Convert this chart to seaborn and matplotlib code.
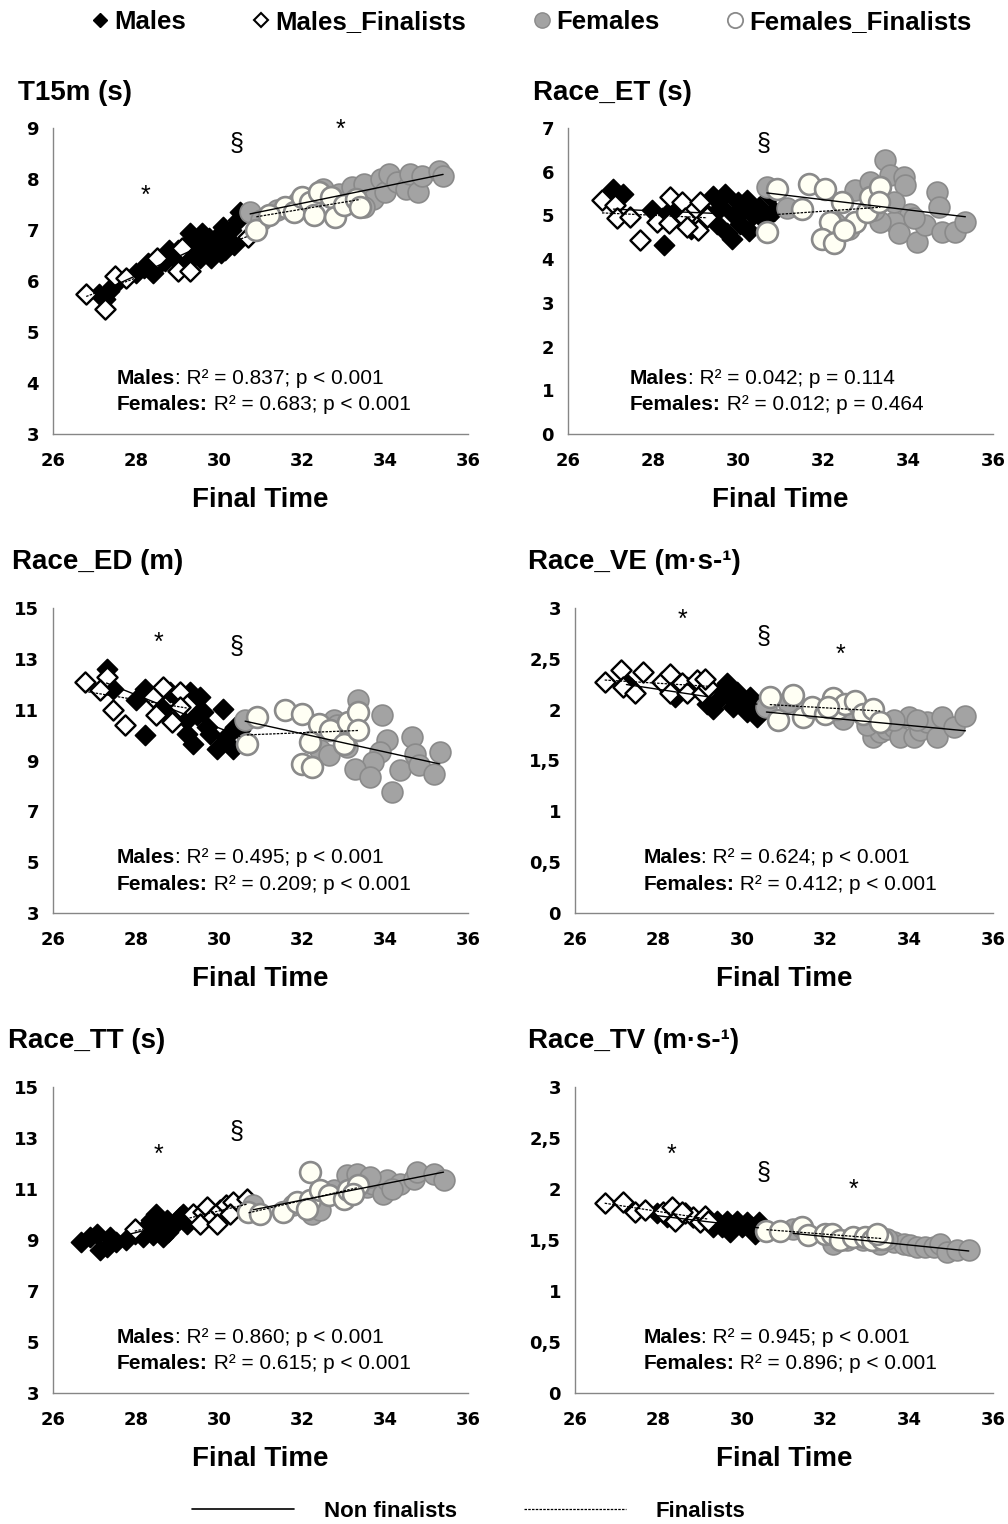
import numpy as np
import matplotlib
matplotlib.use("Agg")
import matplotlib.pyplot as plt
from matplotlib.lines import Line2D
import seaborn as sns

# ---- data (Final Time vs race variable) ----
# T15m (s)
t15_m_x = [27.1, 27.25, 27.35, 27.45, 28.0, 28.2, 28.3, 28.4, 28.5, 28.7, 28.9, 29.0, 29.2, 29.3, 29.4,
           29.5, 29.6, 29.7, 29.8, 29.9, 30.0, 30.05, 30.2, 30.3, 30.35, 30.45, 30.5, 29.1, 29.55, 30.1,
           29.25, 29.75, 30.15, 28.8, 29.45]
t15_m_y = [5.75, 5.65, 5.8, 5.9, 6.15, 6.25, 6.35, 6.15, 6.3, 6.4, 6.5, 6.6, 6.7, 6.95, 6.5,
           6.8, 6.95, 6.6, 6.45, 6.75, 6.9, 6.55, 6.8, 7.0, 6.7, 7.2, 7.35, 6.3, 6.45, 7.05,
           6.45, 6.85, 6.6, 6.6, 6.7]
t15_mf_x = [26.8, 27.25, 27.5, 27.75, 28.5, 29.0, 29.3, 29.1, 30.7]
t15_mf_y = [5.75, 5.45, 6.1, 6.05, 6.45, 6.2, 6.2, 6.65, 6.87]
t15_f_x = [30.75, 31.0, 31.4, 31.9, 32.5, 32.9, 33.2, 33.5, 33.7, 33.9, 34.0, 34.1, 34.3, 34.5, 34.6,
           34.8, 34.9, 35.3, 35.4, 33.5]
t15_f_y = [7.35, 7.2, 7.4, 7.55, 7.8, 7.7, 7.85, 7.9, 7.6, 8.0, 7.75, 8.1, 7.95, 7.8, 8.1,
           7.75, 8.05, 8.15, 8.05, 7.45]
t15_ff_x = [30.9, 31.6, 31.8, 32.0, 32.2, 32.3, 32.4, 32.7, 32.8, 33.0, 33.3, 33.4, 31.2]
t15_ff_y = [7.0, 7.45, 7.35, 7.65, 7.55, 7.3, 7.75, 7.65, 7.25, 7.5, 7.6, 7.45, 7.3]

# Race_ET (s)
et_m_x = [27.07, 27.3, 27.98, 28.25, 29.4, 29.5, 29.6, 29.7, 29.75, 29.85, 29.9, 30.0, 30.05, 30.1,
          30.2, 30.25, 30.35, 30.5, 30.6, 30.75, 30.85, 29.3, 28.9, 28.4, 28.2]
et_m_y = [5.61, 5.5, 5.12, 4.32, 5.45, 4.8, 5.2, 5.5, 4.6, 4.45, 5.0, 5.3, 4.8, 5.1,
          5.35, 4.65, 5.0, 5.2, 4.9, 5.45, 5.1, 5.0, 4.7, 5.1, 4.95]
et_mf_x = [26.8, 27.1, 27.15, 27.47, 27.7, 28.1, 28.4, 28.37, 28.68, 28.76, 29.1, 29.07, 29.27, 28.8]
et_mf_y = [5.35, 5.23, 4.93, 4.97, 4.44, 4.85, 5.42, 4.82, 5.31, 4.93, 5.31, 4.66, 4.97, 4.74]
et_f_x = [33.47, 33.58, 33.9, 33.94, 32.76, 33.11, 34.68, 34.72, 34.05, 33.66, 33.78, 33.35, 34.21, 34.41,
          34.8, 35.11, 35.35, 32.29, 32.6, 31.15, 30.68, 33.19, 34.13, 33.66]
et_f_y = [6.26, 5.92, 5.88, 5.69, 5.58, 5.77, 5.54, 5.2, 5.04, 4.85, 4.59, 4.85, 4.4, 4.78,
          4.63, 4.63, 4.85, 4.82, 4.7, 5.16, 5.65, 5.12, 4.93, 5.31]
et_ff_x = [30.68, 30.92, 31.5, 31.66, 32.05, 32.17, 31.98, 32.25, 32.45, 32.76, 33.03, 33.11, 33.35, 33.31, 32.5]
et_ff_y = [4.63, 5.61, 5.15, 5.73, 5.61, 4.85, 4.47, 4.36, 5.31, 4.85, 5.08, 5.42, 5.65, 5.31, 4.66]

# Race_ED (m)
ed_m_x = [27.29, 27.45, 28.01, 28.21, 28.21, 28.45, 28.65, 28.82, 29.06, 29.22, 29.3, 29.54, 29.46, 29.62,
          29.38, 29.78, 29.94, 30.1, 30.18, 30.34, 30.38, 30.5, 29.22, 29.7]
ed_m_y = [12.61, 11.83, 11.37, 11.83, 9.99, 11.5, 11.04, 11.7, 11.37, 10.58, 11.7, 11.5, 10.78, 10.91,
          9.66, 10.06, 9.47, 11.04, 9.92, 9.47, 10.32, 10.19, 10.06, 10.32]
ed_mf_x = [26.76, 27.29, 27.13, 27.45, 27.73, 28.41, 28.65, 28.49, 29.06, 28.86, 29.22, 29.06]
ed_mf_y = [12.09, 12.29, 11.76, 10.97, 10.38, 11.5, 11.89, 10.78, 11.7, 10.51, 11.17, 11.1]
ed_f_x = [30.63, 32.76, 33.36, 33.92, 34.05, 33.88, 33.72, 33.28, 33.64, 34.17, 34.37, 34.65, 34.73, 34.81,
          35.17, 35.32, 32.44, 32.84, 32.64, 33.08]
ed_f_y = [10.58, 10.58, 11.37, 10.78, 9.79, 9.33, 8.94, 8.68, 8.35, 7.76, 8.61, 9.92, 9.27, 8.81,
          8.48, 9.33, 9.4, 10.38, 9.2, 9.53]
ed_ff_x = [30.67, 30.91, 31.59, 31.99, 32.4, 32.2, 31.99, 32.24, 32.68, 33.0, 33.12, 33.36, 33.36]
ed_ff_y = [9.66, 10.71, 10.97, 10.84, 10.45, 9.73, 8.88, 8.74, 10.19, 9.66, 10.51, 10.91, 10.19]

# Race_VE (m.s-1)
ve_m_x = [27.23, 27.35, 28.39, 28.67, 29.15, 29.39, 29.51, 29.63, 29.71, 29.79, 29.87, 29.95, 30.07, 30.19,
          30.27, 30.35, 29.71, 29.31, 30.11]
ve_m_y = [2.26, 2.21, 2.12, 2.22, 2.06, 2.09, 2.19, 2.26, 2.12, 2.03, 2.17, 2.09, 2.06, 2.12,
          2.01, 1.93, 2.22, 2.01, 1.98]
ve_mf_x = [26.71, 27.11, 27.15, 27.43, 27.63, 28.07, 28.27, 28.27, 28.55, 28.67, 28.91, 29.03, 29.19, 29.11]
ve_mf_y = [2.27, 2.39, 2.22, 2.16, 2.37, 2.27, 2.35, 2.16, 2.26, 2.16, 2.29, 2.16, 2.22, 2.3]
ve_f_x = [30.58, 31.1, 32.42, 33.14, 33.3, 33.46, 33.62, 33.78, 33.98, 34.1, 34.26, 34.42, 34.66, 34.78,
          35.06, 35.34, 33.62, 34.18, 32.98]
ve_f_y = [2.03, 2.08, 1.91, 1.73, 1.78, 1.81, 1.83, 1.73, 1.93, 1.73, 1.8, 1.88, 1.73, 1.93,
          1.83, 1.94, 1.9, 1.9, 1.85]
ve_ff_x = [30.66, 30.86, 31.22, 31.46, 31.66, 31.98, 32.18, 32.26, 32.46, 32.7, 32.9, 33.14, 33.3, 32.06]
ve_ff_y = [2.12, 1.9, 2.14, 1.93, 2.03, 1.96, 2.11, 2.01, 2.06, 2.09, 1.96, 2.01, 1.88, 2.03]

# Race_TT (s)
tt_m_x = [26.68, 26.88, 27.13, 27.05, 27.37, 27.53, 27.77, 27.97, 28.25, 28.37, 28.41, 28.49, 28.57, 28.74,
          28.78, 28.94, 29.06, 29.22, 28.65, 28.17, 27.29, 29.14]
tt_m_y = [8.92, 9.12, 8.59, 9.25, 9.12, 8.92, 8.99, 9.25, 9.51, 9.77, 9.18, 10.03, 9.51, 9.77,
          9.31, 9.64, 9.9, 9.64, 9.12, 9.12, 8.72, 10.03]
tt_mf_x = [27.97, 29.38, 29.62, 29.54, 29.7, 29.86, 30.02, 30.18, 30.34, 30.67, 30.26, 29.94]
tt_mf_y = [9.44, 10.03, 10.1, 9.64, 10.29, 9.9, 10.16, 10.36, 10.49, 10.62, 10.03, 9.64]
tt_f_x = [30.83, 31.79, 32.23, 32.44, 32.76, 33.08, 33.32, 33.56, 33.72, 33.96, 34.05, 34.37, 34.69, 34.77,
          35.17, 35.41, 34.17, 33.64]
tt_f_y = [10.36, 10.36, 10.03, 10.16, 10.95, 11.54, 11.6, 11.08, 11.21, 10.82, 11.34, 11.21, 11.41, 11.67,
          11.6, 11.34, 11.0, 11.47]
tt_ff_x = [30.71, 30.99, 31.55, 31.87, 32.19, 32.19, 32.44, 32.64, 33.0, 33.12, 33.36, 33.24, 32.11]
tt_ff_y = [10.1, 10.03, 10.1, 10.49, 11.67, 10.56, 10.95, 10.75, 10.62, 10.95, 11.14, 10.82, 10.23]

# Race_TV (m.s-1)
tv_m_x = [27.95, 28.19, 29.39, 29.51, 29.63, 29.75, 29.87, 29.99, 30.11, 30.23, 30.31, 30.39, 29.71, 29.31]
tv_m_y = [1.76, 1.73, 1.69, 1.63, 1.69, 1.64, 1.69, 1.63, 1.68, 1.63, 1.56, 1.68, 1.58, 1.63]
tv_mf_x = [26.71, 27.15, 27.43, 27.67, 28.11, 28.31, 28.39, 28.63, 28.83, 28.99, 29.11, 29.19, 28.55]
tv_mf_y = [1.86, 1.87, 1.77, 1.79, 1.77, 1.82, 1.69, 1.76, 1.73, 1.68, 1.74, 1.69, 1.77]
tv_f_x = [31.22, 32.18, 32.5, 33.3, 33.62, 33.86, 34.02, 34.18, 34.38, 34.58, 34.74, 34.9, 35.14, 35.42,
          33.46, 32.9]
tv_f_y = [1.61, 1.46, 1.5, 1.46, 1.48, 1.46, 1.45, 1.43, 1.43, 1.43, 1.46, 1.38, 1.4, 1.4, 1.51, 1.5]
tv_ff_x = [30.58, 30.9, 31.42, 31.58, 31.98, 32.14, 32.34, 32.66, 32.94, 33.1, 33.34, 33.22]
tv_ff_y = [1.59, 1.59, 1.63, 1.55, 1.56, 1.56, 1.5, 1.53, 1.53, 1.5, 1.51, 1.56]

titles = ["T15m (s)", "Race_ET (s)", "Race_ED (m)", "Race_VE (m·s-¹)", "Race_TT (s)", "Race_TV (m·s-¹)"]
y_ticks = [np.arange(3, 10, 1), np.arange(0, 8, 1), np.arange(3, 16, 2),
           np.arange(0, 3.01, 0.5), np.arange(3, 16, 2), np.arange(0, 3.01, 0.5)]
x_ticks = [26, 28, 30, 32, 34, 36]
stats = [("0.837; p < 0.001", "0.683; p < 0.001"),
         ("0.042; p = 0.114", "0.012; p = 0.464"),
         ("0.495; p < 0.001", "0.209; p < 0.001"),
         ("0.624; p < 0.001", "0.412; p < 0.001"),
         ("0.860; p < 0.001", "0.615; p < 0.001"),
         ("0.945; p < 0.001", "0.896; p < 0.001")]
# significance marks (symbol, x, y) in data units
marks = [[("*", 28.22, 7.67), ("§", 30.43, 8.69), ("*", 32.92, 8.96)],
         [("§", 30.59, 6.63)],
         [("*", 28.53, 13.62), ("§", 30.43, 13.46)],
         [("*", 28.56, 2.88), ("§", 30.5, 2.71), ("*", 32.36, 2.54)],
         [("*", 28.53, 12.33), ("§", 30.43, 13.24)],
         [("*", 28.3, 2.33), ("§", 30.5, 2.16), ("*", 32.67, 1.99)]]

panels = [
    (t15_m_x, t15_m_y, t15_mf_x, t15_mf_y, t15_f_x, t15_f_y, t15_ff_x, t15_ff_y),
    (et_m_x, et_m_y, et_mf_x, et_mf_y, et_f_x, et_f_y, et_ff_x, et_ff_y),
    (ed_m_x, ed_m_y, ed_mf_x, ed_mf_y, ed_f_x, ed_f_y, ed_ff_x, ed_ff_y),
    (ve_m_x, ve_m_y, ve_mf_x, ve_mf_y, ve_f_x, ve_f_y, ve_ff_x, ve_ff_y),
    (tt_m_x, tt_m_y, tt_mf_x, tt_mf_y, tt_f_x, tt_f_y, tt_ff_x, tt_ff_y),
    (tv_m_x, tv_m_y, tv_mf_x, tv_mf_y, tv_f_x, tv_f_y, tv_ff_x, tv_ff_y),
]

sns.set_style("white")
plt.rcParams['font.family'] = ['Liberation Sans', 'DejaVu Sans']
plt.rcParams['text.color'] = 'black'
plt.rcParams['axes.labelcolor'] = 'black'
plt.rcParams['xtick.color'] = 'black'
plt.rcParams['ytick.color'] = 'black'

W, H = 1008, 1524
fig = plt.figure(figsize=(W / 100, H / 100), dpi=100)

# axes boxes in pixels: left, right, top, bottom
boxes = [(53, 468, 128, 434), (568, 993, 128, 434),
         (53, 468, 608, 913), (575, 993, 608, 913),
         (53, 468, 1087, 1393), (575, 993, 1087, 1393)]
title_pos = [(18, 93), (533, 93), (12, 562), (528, 562), (8, 1041), (528, 1041)]
stat_x = [0.154, 0.146, 0.154, 0.163, 0.154, 0.163]

GREY = "#a3a3a3"
GREY_EDGE = "#8a8a8a"
SPINE = "#868686"
DOTTED = (0, (2, 1))

for i, (mx, my, mfx, mfy, fx, fy, ffx, ffy) in enumerate(panels):
    l, r, t, b = boxes[i]
    ax = fig.add_axes([l / W, 1 - b / H, (r - l) / W, (b - t) / H])

    sns.scatterplot(x=mx, y=my, marker="D", s=105, color="black", edgecolor="black", linewidth=1.2, ax=ax)
    sns.scatterplot(x=mfx, y=mfy, marker="D", s=105, color="white", edgecolor="black", linewidth=1.7, ax=ax)
    sns.scatterplot(x=fx, y=fy, marker="o", s=225, color=GREY, edgecolor=GREY_EDGE, linewidth=1.2, ax=ax)
    sns.scatterplot(x=ffx, y=ffy, marker="o", s=225, color="#fffff4", edgecolor=GREY_EDGE, linewidth=1.9, ax=ax)

    sns.regplot(x=mx, y=my, scatter=False, ci=None, ax=ax, line_kws=dict(color="black", lw=1.0))
    sns.regplot(x=mfx, y=mfy, scatter=False, ci=None, ax=ax, line_kws=dict(color="black", lw=0.9, ls=DOTTED))
    sns.regplot(x=fx, y=fy, scatter=False, ci=None, ax=ax, line_kws=dict(color="black", lw=1.0))
    sns.regplot(x=ffx, y=ffy, scatter=False, ci=None, ax=ax, line_kws=dict(color="black", lw=0.9, ls=DOTTED))

    yt = y_ticks[i]
    ax.set_xlim(26, 36)
    ax.set_ylim(yt[0], yt[-1])
    ax.set_xticks(x_ticks, [str(v) for v in x_ticks], fontfamily="DejaVu Sans", fontweight="bold", fontsize=13)
    ax.set_yticks(yt, [f"{v:g}".replace(".", ",") for v in yt],
                  fontfamily="DejaVu Sans", fontweight="bold", fontsize=13)
    ax.tick_params(axis="x", direction="out", length=6, width=1, color=SPINE, labelcolor="black", pad=7)
    ax.tick_params(axis="y", direction="out", length=5, width=1, color=SPINE, labelcolor="black", pad=5)
    for side in ["top", "right"]:
        ax.spines[side].set_visible(False)
    for side in ["left", "bottom"]:
        ax.spines[side].set_color(SPINE)
        ax.spines[side].set_linewidth(1)
    ax.set_xlabel("Final Time", fontsize=20, fontweight="bold", labelpad=12, color="black")
    ax.set_ylabel("")

    for sym, sx, sy in marks[i]:
        ax.text(sx, sy, sym, fontsize=18, ha="center", va="center", color="black")

    sm, sf = stats[i]
    for lab, val, yf in [("Males", ": R² = " + sm, 0.183), ("Females:", " R² = " + sf, 0.095)]:
        tb = ax.text(stat_x[i], yf, lab, transform=ax.transAxes, fontsize=15, fontweight="bold",
                     ha="left", va="center", color="black")
        ax.annotate(val, xy=(1, 0.5), xycoords=tb, ha="left", va="center", fontsize=15, color="black")

    tx, ty = title_pos[i]
    fig.text(tx / W, 1 - ty / H, titles[i], fontsize=20, fontweight="bold", ha="left", va="center",
             color="black")

# top legend (groups)
top_handles = [
    Line2D([], [], ls="", marker="D", markersize=7, color="black"),
    Line2D([], [], ls="", marker="D", markersize=7, markerfacecolor="white", markeredgecolor="black", markeredgewidth=1.5),
    Line2D([], [], ls="", marker="o", markersize=11, markerfacecolor=GREY, markeredgecolor=GREY_EDGE),
    Line2D([], [], ls="", marker="o", markersize=11, markerfacecolor="white", markeredgecolor=GREY_EDGE, markeredgewidth=1.3),
]
fig.legend(top_handles, ["Males", "Males_Finalists", "Females", "Females_Finalists"],
           loc="center", bbox_to_anchor=(0.527, 0.9856), ncol=4, frameon=False,
           prop=dict(weight="bold", size=18.5), handlelength=0.7, handletextpad=0.2,
           columnspacing=2.6, borderpad=0)

# bottom legend (regression lines)
bot_handles = [Line2D([], [], color="black", lw=1.2), Line2D([], [], color="black", lw=0.9, ls=DOTTED)]
fig.legend(bot_handles, ["Non finalists", "Finalists"], loc="center", bbox_to_anchor=(0.465, 0.0085),
           ncol=2, frameon=False, prop=dict(weight="bold", size=16), handlelength=4.6,
           handletextpad=1.35, columnspacing=3.0, borderpad=0)

fig.savefig("out.png", dpi=100)
